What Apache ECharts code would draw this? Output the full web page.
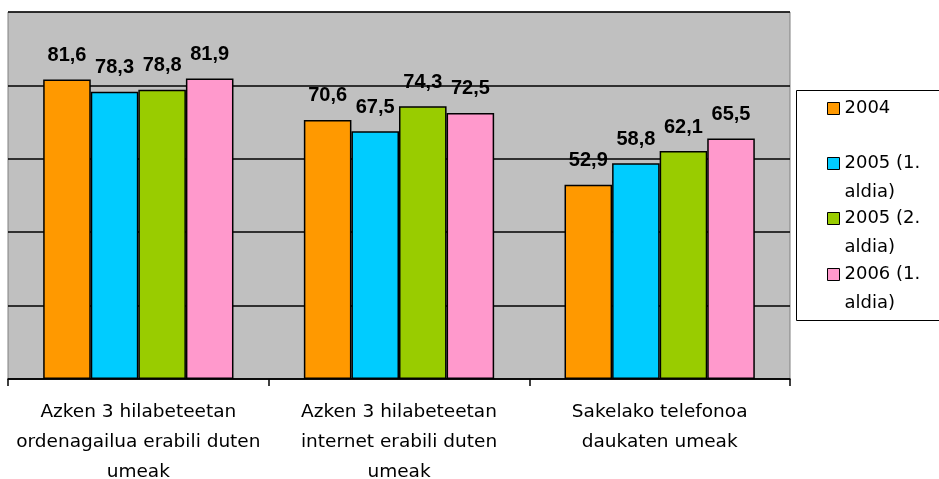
<!DOCTYPE html>
<html>
<head>
<meta charset="utf-8">
<script src="https://cdn.jsdelivr.net/npm/echarts@6/dist/echarts.min.js"></script>
<style>
  html, body { margin: 0; padding: 0; background: #fff; }
  #chart { width: 939px; height: 479px; }
</style>
</head>
<body>
<div id="chart"></div>
<script>
const categories = [
  'Azken 3 hilabeteetan\nordenagailua erabili duten\numeak',
  'Azken 3 hilabeteetan\ninternet erabili duten\numeak',
  'Sakelako telefonoa\ndaukaten umeak'
]
const seriesNames = ['2004', '2005 (1.\naldia)', '2005 (2.\naldia)', '2006 (1.\naldia)']
const values2004 = [81.6, 70.6, 52.9]
const values2005a = [78.3, 67.5, 58.8]
const values2005b = [78.8, 74.3, 62.1]
const values2006a = [81.9, 72.5, 65.5]
const colors = ['#FF9900', '#00CCFF', '#99CC00', '#FF99CC']

const allValues = [values2004, values2005a, values2005b, values2006a]

// legend items sit at fixed rows inside the framed box
const legendTops = [94, 120, 175, 231]

const chart = echarts.init(document.getElementById('chart'), null, { renderer: 'canvas' })

chart.setOption({
  backgroundColor: '#fff',
  animation: false,
  grid: {
    left: 8, right: 149, top: 12, bottom: 100,
    outerBoundsMode: 'none',
    show: true, backgroundColor: '#C0C0C0', borderColor: '#808080', borderWidth: 1
  },
  graphic: [{
    type: 'rect', z: 0, left: 796, top: 90,
    shape: { width: 150, height: 230 },
    style: { fill: '#fff', stroke: '#000', lineWidth: 1 }
  }],
  legend: seriesNames.map((name, i) => ({
    data: [name],
    orient: 'vertical',
    left: 827,
    top: legendTops[i],
    padding: 0,
    z: 5,
    selectedMode: false,
    icon: 'rect',
    itemWidth: 12,
    itemHeight: 12,
    itemStyle: { borderColor: '#000', borderWidth: 1 },
    // blank first line keeps the square level with the first text line
    formatter: (n) => (i === 0 ? n : '\n' + n),
    textStyle: { fontFamily: 'DejaVu Sans', fontSize: 18, color: '#000', lineHeight: 29 }
  })),
  xAxis: {
    type: 'category',
    data: categories,
    axisLine: { lineStyle: { color: '#000', width: 1.5 } },
    axisTick: { show: true, length: 7, lineStyle: { color: '#000', width: 1.5 } },
    axisLabel: {
      interval: 0, margin: 18, color: '#000',
      fontFamily: 'DejaVu Sans', fontSize: 18.5, lineHeight: 30
    }
  },
  yAxis: {
    type: 'value', min: 0, max: 100, interval: 20,
    axisLine: { show: false }, axisTick: { show: false }, axisLabel: { show: false },
    splitLine: { lineStyle: { color: '#000', width: 1.5 } }
  },
  series: seriesNames.map((name, i) => ({
    name,
    type: 'bar',
    data: allValues[i],
    barGap: '0%',
    barCategoryGap: '27%',
    itemStyle: { color: colors[i], borderColor: '#000', borderWidth: 1.5 },
    label: {
      show: true, position: 'top', distance: 14,
      fontFamily: 'Liberation Sans', fontWeight: 'bold', fontSize: 20, color: '#000',
      formatter: (p) => String(p.value).replace('.', ',')
    }
  }))
})
</script>
</body>
</html>
